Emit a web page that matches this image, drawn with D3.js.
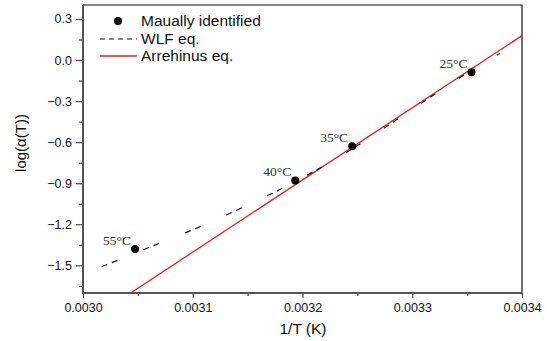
<!DOCTYPE html>
<html>
<head>
<meta charset="utf-8">
<script src="https://cdn.jsdelivr.net/npm/d3@7"></script>
<style>
  body { margin: 0; background: #fff; }
  .chart text { font-family: Arial, "Liberation Sans", sans-serif; fill: #111; }
  .chart .temp { font-family: "Times New Roman", "Liberation Serif", serif; fill: #333; }
</style>
</head>
<body>
<div class="chart"></div>
<script>
// manually identified points
const pointX = [0.0030474, 0.0031934, 0.0032452, 0.0033540];
const pointY = [-1.38, -0.88, -0.63, -0.09];
const pointLabels = ['55°C', '40°C', '35°C', '25°C'];

// WLF fit (dashed)
const wlfX = [0.003017, 0.00306, 0.00310, 0.00315, 0.00320, 0.00325, 0.00330, 0.00335, 0.00338];
const wlfY = [-1.51, -1.37, -1.24, -1.06, -0.86, -0.625, -0.36, -0.095, 0.05];

// Arrhenius fit (red)
const arrX = [0.00304, 0.00340];
const arrY = [-1.72, 0.178];

const xTicks = [0.0030, 0.0031, 0.0032, 0.0033, 0.0034];
const xMinor = [0.00305, 0.00315, 0.00325, 0.00335];
const yTicks = [-1.5, -1.2, -0.9, -0.6, -0.3, 0.0, 0.3];
const yMinor = [-1.65, -1.35, -1.05, -0.75, -0.45, -0.15, 0.15];

const legendItems = ['Maually identified', 'WLF eq.', 'Arrehinus eq.'];

let margin = { top: 5, right: 25, bottom: 48, left: 83 };
let width = 547 - margin.left - margin.right;
let height = 341 - margin.top - margin.bottom;

let svg = d3.select('.chart')
  .append('svg')
    .attr('width', 547)
    .attr('height', 341)
  .append('g')
    .attr('transform', 'translate(' + margin.left + ',' + margin.top + ')');

let x = d3.scaleLinear().domain([0.0030, 0.0034]).range([0, width]);
let y = d3.scaleLinear().domain([-1.702, 0.402]).range([height, 0]);

svg.append('clipPath').attr('id', 'clip')
  .append('rect').attr('width', width).attr('height', height);

// top / right border (thin, black)
svg.append('path')
  .attr('d', `M0,0H${width}V${height}`)
  .attr('fill', 'none').attr('stroke', '#111').attr('stroke-width', 1.2);

// axes
svg.append('g')
  .attr('transform', `translate(0,${height})`)
  .call(d3.axisBottom(x).tickValues(xTicks).tickFormat(d3.format('.4f')).tickSize(5).tickPadding(5));
svg.append('g')
  .attr('transform', `translate(0,${height})`)
  .call(d3.axisBottom(x).tickValues(xMinor).tickFormat('').tickSize(3));

svg.append('g')
  .call(d3.axisLeft(y).tickValues(yTicks).tickFormat(d3.format('.1f')).tickSize(7).tickPadding(4));
svg.append('g')
  .call(d3.axisLeft(y).tickValues(yMinor).tickFormat('').tickSize(4));

svg.selectAll('.domain').remove();
svg.selectAll('.tick line').attr('stroke', '#444').attr('stroke-width', 1.2);
svg.selectAll('.tick text').style('font-size', '12.5px').attr('fill', '#111');

// left / bottom axis lines (heavier, grey)
svg.append('path')
  .attr('d', `M0,0V${height}H${width}`)
  .attr('fill', 'none').attr('stroke', '#555').attr('stroke-width', 2);

let plot = svg.append('g').attr('clip-path', 'url(#clip)');

let line = d3.line().x(d => x(d[0])).y(d => y(d[1]));

plot.append('path')
  .datum(arrX.map((v, i) => [v, arrY[i]]))
  .attr('d', line)
  .attr('fill', 'none')
  .attr('stroke', '#e8201a')
  .attr('stroke-width', 1.3);

plot.append('path')
  .datum(wlfX.map((v, i) => [v, wlfY[i]]))
  .attr('d', d3.line().curve(d3.curveMonotoneX).x(d => x(d[0])).y(d => y(d[1])))
  .attr('fill', 'none')
  .attr('stroke', '#111')
  .attr('stroke-width', 1.2)
  .attr('stroke-dasharray', '6,5,6,28');

svg.selectAll('circle.pt')
  .data(pointX)
  .enter()
  .append('circle')
    .attr('class', 'pt')
    .attr('cx', d => x(d))
    .attr('cy', (d, i) => y(pointY[i]))
    .attr('r', 4)
    .attr('fill', '#000');

svg.selectAll('text.temp')
  .data(pointLabels)
  .enter()
  .append('text')
    .attr('class', 'temp')
    .attr('x', (d, i) => x(pointX[i]) - 4)
    .attr('y', (d, i) => y(pointY[i]) - 4)
    .attr('text-anchor', 'end')
    .style('font-size', '13.5px')
    .text(d => d);

// legend
let legend = svg.append('g').attr('transform', 'translate(17,21)');
legend.append('circle').attr('cx', 18).attr('cy', -5).attr('r', 4).attr('fill', '#000');
legend.append('line').attr('x1', 0).attr('x2', 37).attr('y1', 13).attr('y2', 13)
  .attr('stroke', '#111').attr('stroke-width', 1.2).attr('stroke-dasharray', '5,4');
legend.append('line').attr('x1', 0).attr('x2', 37).attr('y1', 30).attr('y2', 30)
  .attr('stroke', '#e8201a').attr('stroke-width', 1.3);
legend.selectAll('text.leg')
  .data(legendItems)
  .enter()
  .append('text')
    .attr('class', 'leg')
    .attr('x', 41)
    .attr('y', (d, i) => i * 17.5)
    .style('font-size', '15.5px')
    .text(d => d);

// axis titles
svg.append('text')
  .attr('x', width / 2 + 0.5)
  .attr('y', height + 41)
  .attr('text-anchor', 'middle')
  .style('font-size', '15.5px')
  .text('1/T (K)');

svg.append('text')
  .attr('transform', `translate(${-57},${138}) rotate(-90)`)
  .attr('text-anchor', 'middle')
  .style('font-size', '15px')
  .text('log(α(T))');
</script>
</body>
</html>
